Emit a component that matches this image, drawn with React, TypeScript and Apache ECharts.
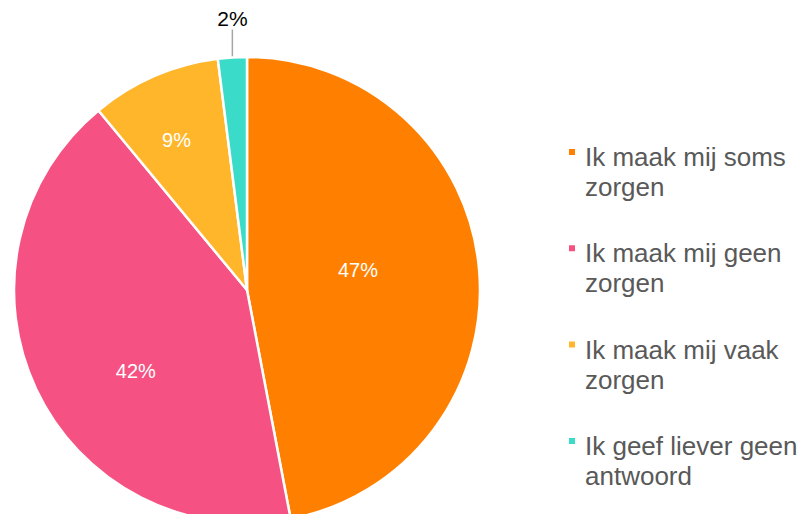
import React, { useEffect, useRef } from "react";
import * as echarts from "echarts";

const categories = [
  "Ik maak mij soms zorgen",
  "Ik maak mij geen zorgen",
  "Ik maak mij vaak zorgen",
  "Ik geef liever geen antwoord",
];
const values = [47, 42, 9, 2];
const colors = ["#FF8000", "#F55283", "#FFB62B", "#3ADCC9"];
// label nudges (Excel best-fit placement)
const labelNudge = [
  [-8, -9],
  [-3, 30],
  [-23, -40],
  [0, 0],
];

export default function App() {
  const ref = useRef<HTMLDivElement>(null);
  useEffect(() => {
    if (!ref.current) return;
    const chart = echarts.init(ref.current, null, { renderer: "svg" });
    chart.setOption({
      animation: false,
      color: colors,
      legend: {
        orient: "vertical",
        left: 559,
        top: 109,
        padding: 0,
        itemWidth: 8,
        itemHeight: 8,
        itemGap: 13.3,
        icon: "rect",
        selectedMode: false,
        formatter: (name: string) => {
          const m = name.match(/^(.*) (\S+)$/);
          const a = m ? m[1] : name;
          const b = m ? m[2] : "";
          return "{e| }\n{t|" + a + "}\n{t|" + b + "}";
        },
        textStyle: {
          fontFamily: "Liberation Sans",
          fontSize: 26,
          color: "#595959",
          rich: {
            e: { lineHeight: 40, fontSize: 10 },
            t: {
              fontFamily: "Liberation Sans",
              fontSize: 26,
              lineHeight: 30,
              color: "#595959",
              padding: [0, 0, 0, 4],
            },
          },
        },
      },
      series: [
        {
          type: "pie",
          center: [239, 282],
          radius: 233,
          startAngle: 90,
          clockwise: true,
          itemStyle: { borderColor: "#fff", borderWidth: 2.5 },
          label: {
            show: true,
            position: "inside",
            formatter: "{c}%",
            color: "#fff",
            fontFamily: "Liberation Sans",
            fontSize: 20,
          },
          labelLine: { show: false },
          data: categories.map((name, i) =>
            i === 3
              ? {
                  name,
                  value: values[i],
                  label: { position: "outside", color: "#000", fontSize: 21 },
                  labelLine: {
                    show: true,
                    length: 28,
                    length2: 0,
                    lineStyle: { color: "#A6A6A6", width: 1.5 },
                  },
                }
              : { name, value: values[i] }
          ),
          labelLayout: (p: any) => {
            if (p.dataIndex === 3 && p.labelLinePoints) {
              const s = p.labelLinePoints[0];
              const e = p.labelLinePoints[1];
              return {
                x: s[0],
                y: e[1] - 1,
                align: "center",
                verticalAlign: "bottom",
                labelLinePoints: [s, [s[0], e[1]], [s[0], e[1]]],
              };
            }
            const n = labelNudge[p.dataIndex];
            return { dx: n[0], dy: n[1] };
          },
        },
      ],
    });
    return () => chart.dispose();
  }, []);
  return <div ref={ref} style={{ width: 792, height: 506 }} />;
}
